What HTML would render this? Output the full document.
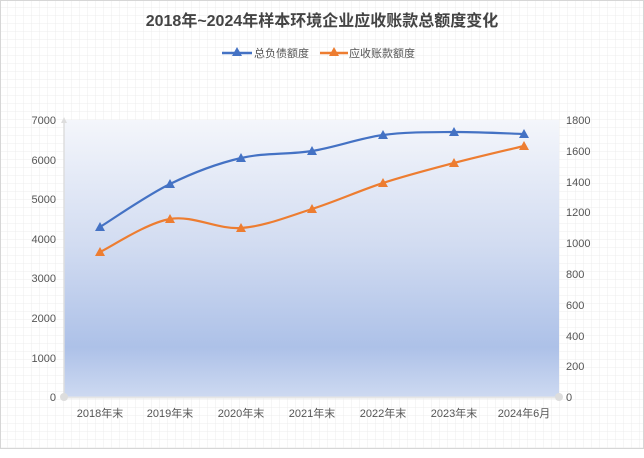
<!DOCTYPE html>
<html><head><meta charset="utf-8"><style>
body{margin:0;width:644px;height:458px;overflow:hidden;background:#fff;}
svg{display:block}
text{font-family:"Liberation Sans","Noto Sans CJK SC",sans-serif;}
</style></head><body>
<svg width="644" height="458" viewBox="0 0 644 458">
<defs>
<pattern id="g" width="8" height="8" patternUnits="userSpaceOnUse">
<path d="M8 0V8M0 8H8" stroke="#ececec" stroke-width="1" fill="none"/>
</pattern>
<linearGradient id="bg" x1="0" y1="0" x2="0" y2="1">
<stop offset="0" stop-color="#f4f6fb"/>
<stop offset="0.45" stop-color="#d2dcf1"/>
<stop offset="0.82" stop-color="#adc1e8"/>
<stop offset="1" stop-color="#cdd9f1"/>
</linearGradient>
</defs>
<rect x="0" y="0" width="644" height="458" fill="#fff"/>
<rect x="1" y="1" width="642" height="447" fill="url(#g)"/>
<rect x="0.5" y="0.5" width="643" height="448" fill="none" stroke="#d6d6d6"/>
<text x="322" y="26" text-anchor="middle" font-size="16" font-weight="bold" fill="#444">2018年~2024年样本环境企业应收账款总额度变化</text>
<line x1="222" y1="53" x2="252" y2="53" stroke="#4472c4" stroke-width="2.5"/>
<path d="M237 47L232 56H242Z" fill="#4472c4"/>
<text x="254" y="57" font-size="11" fill="#555">总负债额度</text>
<line x1="320" y1="53" x2="348" y2="53" stroke="#ed7d31" stroke-width="2.5"/>
<path d="M334 47L329 56H339Z" fill="#ed7d31"/>
<text x="349" y="57" font-size="11" fill="#555">应收账款额度</text>
<rect x="64" y="120" width="495" height="277" fill="url(#bg)"/>
<line x1="64" y1="122" x2="64" y2="397" stroke="#ddd" stroke-width="1.5"/>
<path d="M64 117L61 123H67Z" fill="#ddd"/>
<line x1="64" y1="397.5" x2="559" y2="397.5" stroke="#e6e6e6" stroke-width="2"/>
<circle cx="64" cy="397" r="4" fill="#ddd"/>
<circle cx="559" cy="397" r="4" fill="#ddd"/>
<g font-size="11" fill="#555" text-anchor="end">
<text x="56" y="124">7000</text><text x="56" y="164">6000</text><text x="56" y="203">5000</text>
<text x="56" y="243">4000</text><text x="56" y="282">3000</text><text x="56" y="322">2000</text>
<text x="56" y="362">1000</text><text x="56" y="401">0</text>
</g>
<g font-size="11" fill="#555">
<text x="566" y="124">1800</text><text x="566" y="155">1600</text><text x="566" y="186">1400</text>
<text x="566" y="216">1200</text><text x="566" y="247">1000</text><text x="566" y="278">800</text>
<text x="566" y="309">600</text><text x="566" y="340">400</text><text x="566" y="370">200</text>
<text x="566" y="401">0</text>
</g>
<g font-size="11" fill="#555" text-anchor="middle">
<text x="100" y="417">2018年末</text><text x="170" y="417">2019年末</text><text x="241" y="417">2020年末</text>
<text x="312" y="417">2021年末</text><text x="383" y="417">2022年末</text><text x="454" y="417">2023年末</text>
<text x="524" y="417">2024年6月</text>
</g>
<path d="M100 227C111.7 219.8 146.5 195.5 170 184C193.5 172.5 217.3 163.5 241 158C264.7 152.5 288.3 154.8 312 151C335.7 147.2 359.3 138.2 383 135C406.7 131.8 430.5 132.2 454 132C477.5 131.8 512.3 133.7 524 134" fill="none" stroke="#4472c4" stroke-width="2.2"/>
<path d="M100 252C111.7 246.5 146.5 223 170 219C193.5 215 217.3 229.7 241 228C264.7 226.3 288.3 216.5 312 209C335.7 201.5 359.3 190.7 383 183C406.7 175.3 430.5 169.2 454 163C477.5 156.8 512.3 148.8 524 146" fill="none" stroke="#ed7d31" stroke-width="2.2"/>
<g fill="#4472c4">
<path d="M100 222L95 231H105Z"/><path d="M170 179L165 188H175Z"/><path d="M241 153L236 162H246Z"/>
<path d="M312 146L307 155H317Z"/><path d="M383 130L378 139H388Z"/><path d="M454 127L449 136H459Z"/><path d="M524 129L519 138H529Z"/>
</g>
<g fill="#ed7d31">
<path d="M100 247L95 256H105Z"/><path d="M170 214L165 223H175Z"/><path d="M241 223L236 232H246Z"/>
<path d="M312 204L307 213H317Z"/><path d="M383 178L378 187H388Z"/><path d="M454 158L449 167H459Z"/><path d="M524 141L519 150H529Z"/>
</g>
</svg>
</body></html>
